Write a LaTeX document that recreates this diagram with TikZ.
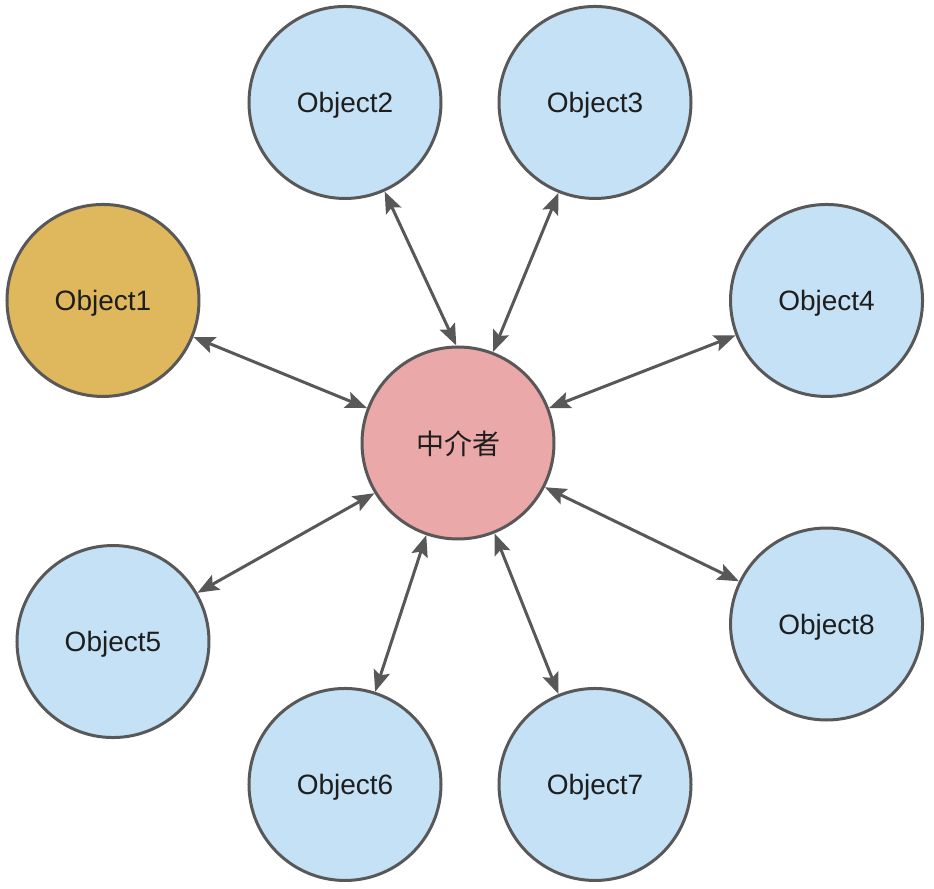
\documentclass[tikz,border=0pt]{standalone}
\usepackage{fontspec}
\setmainfont{Liberation Sans}
\newfontfamily\cjk{Noto Sans CJK SC}
\usepackage{tikz}
\usetikzlibrary{positioning,arrows.meta}
\definecolor{objblue}{RGB}{197,225,245}
\definecolor{objgold}{RGB}{223,183,92}
\definecolor{medpink}{RGB}{234,168,168}
\definecolor{linegray}{RGB}{88,88,88}
\definecolor{textdark}{RGB}{30,30,30}

\begin{document}
\begin{tikzpicture}[on grid,
obj/.style={circle,draw=linegray,line width=2.25pt,minimum size=144pt,inner sep=0pt,
fill=objblue,text=textdark,text depth=0pt,font=\fontsize{21}{25}\selectfont},
link/.style={draw=linegray,line width=2.25pt,
{Stealth[length=16pt,width=12.5pt,inset=3pt]}-{Stealth[length=16pt,width=12.5pt,inset=3pt]}}]
\useasboundingbox (-343.5pt,-333.75pt) rectangle (357pt,332.25pt);
% the mediator in the middle
\node[obj,fill=medpink] (med) at (0,0) {\cjk 中介者};
% objects around it
\node[obj,fill=objgold] (o1) [above left =106.9pt and 266.25pt of med] {Object1};
\node[obj] (o2) [above left =255.4pt and 84.75pt of med] {Object2};
\node[obj] (o3) [above right =255.4pt and 102.75pt of med] {Object3};
\node[obj] (o4) [above right =106.9pt and 276.4pt of med] {Object4};
\node[obj] (o5) [below left =148.9pt and 258.75pt of med] {Object5};
\node[obj] (o6) [below left =256.1pt and 84.75pt of med] {Object6};
\node[obj] (o7) [below right =256.1pt and 102.75pt of med] {Object7};
\node[obj] (o8) [below right =135.75pt and 276.4pt of med] {Object8};
% the arrows
\draw[link] (o1.338) -- (med.159);
\draw[link] (o2.294) -- (med.91);
\draw[link] (o3.248) -- (med.69);
\draw[link] (o4.201) -- (med.21);
\draw[link] (o5.30) -- (med.211);
\draw[link] (o6.72) -- (med.251);
\draw[link] (o7.112) -- (med.292);
\draw[link] (o8.154) -- (med.333);
\end{tikzpicture}
\end{document}
